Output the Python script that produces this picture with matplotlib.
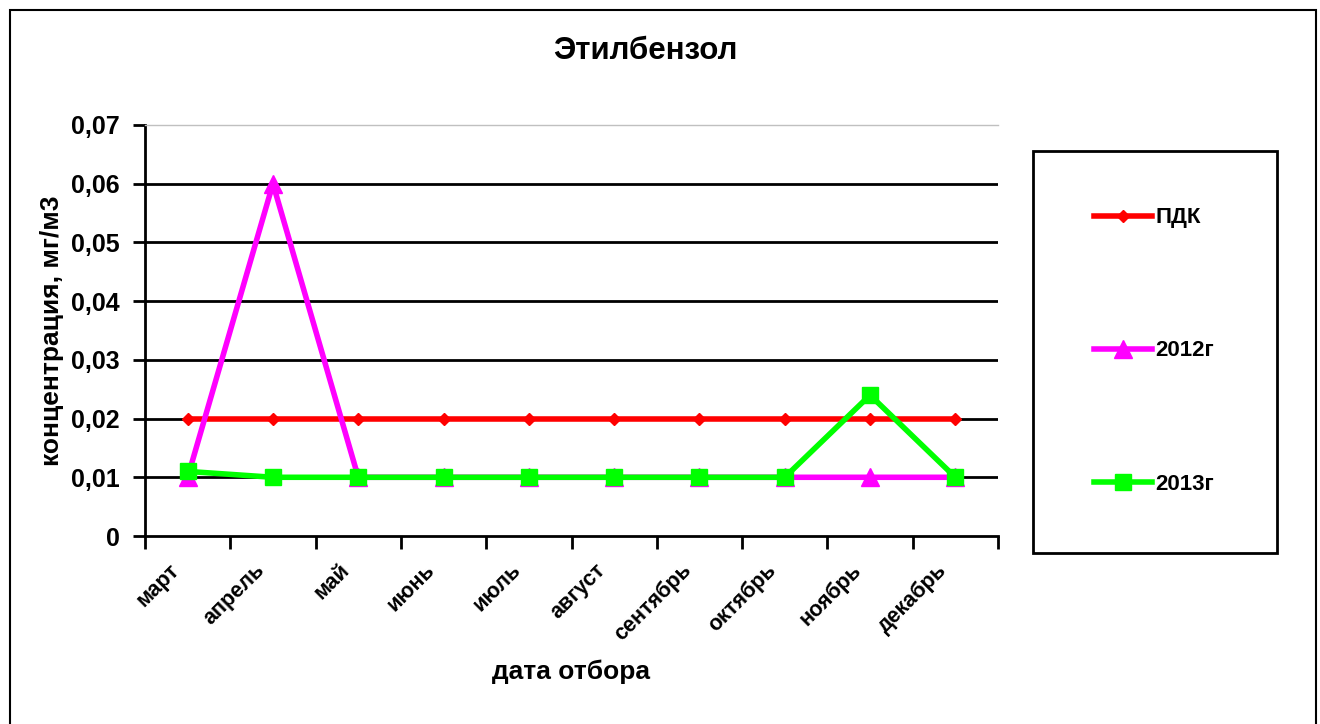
import matplotlib
matplotlib.use("Agg")
import matplotlib.pyplot as plt
from matplotlib.patches import Rectangle
from matplotlib.ticker import FixedLocator, FixedFormatter
from matplotlib.transforms import ScaledTranslation

plt.rcParams['font.family'] = ['Liberation Sans', 'DejaVu Sans']

# data
months = ["март", "апрель", "май", "июнь", "июль", "август",
          "сентябрь", "октябрь", "ноябрь", "декабрь"]
pdk = [0.02, 0.02, 0.02, 0.02, 0.02, 0.02, 0.02, 0.02, 0.02, 0.02]
y2012 = [0.01, 0.06, 0.01, 0.01, 0.01, 0.01, 0.01, 0.01, 0.01, 0.01]
y2013 = [0.011, 0.01, 0.01, 0.01, 0.01, 0.01, 0.01, 0.01, 0.024, 0.01]
yticks = [0, 0.01, 0.02, 0.03, 0.04, 0.05, 0.06, 0.07]
ytick_labels = ["0", "0,01", "0,02", "0,03", "0,04", "0,05", "0,06", "0,07"]

fig = plt.figure(figsize=(13.2, 7.24), dpi=100)
ax = fig.add_axes([145 / 1320, 188 / 724, 853 / 1320, 411 / 724])

x = list(range(len(months)))
ax.plot(x, pdk, color="#ff0000", lw=4, marker="D", ms=6, label="ПДК", zorder=3)
ax.plot(x, y2012, color="#ff00ff", lw=4, marker="^", ms=13, label="2012г", zorder=4)
ax.plot(x, y2013, color="#00ff00", lw=4, marker="s", ms=12, label="2013г", zorder=5)

ax.set_xlim(-0.5, len(months) - 0.5)
ax.set_ylim(0, 0.07)

# grid
for v in yticks[1:-1]:
    ax.axhline(v, color="black", lw=2, zorder=1)

ax.yaxis.set_major_locator(FixedLocator(yticks))
ax.yaxis.set_major_formatter(FixedFormatter(ytick_labels))
ax.tick_params(axis="y", direction="out", length=9, width=2, labelsize=18, pad=9)
for lab in ax.get_yticklabels():
    lab.set_fontweight("bold")

ax.set_xticks(x)
ax.set_xticklabels(months, rotation=45, ha="right", va="top",
                   rotation_mode="anchor", fontsize=15.5, fontweight="bold")
ax.tick_params(axis="x", which="major", length=0, pad=17)
shift = ScaledTranslation(-19 / 100, 0, fig.dpi_scale_trans)
for lab in ax.get_xticklabels():
    lab.set_transform(lab.get_transform() + shift)
ax.set_xticks([i - 0.5 for i in range(len(months) + 1)], minor=True)
ax.tick_params(axis="x", which="minor", direction="out", length=9, width=2)

ax.spines["right"].set_visible(False)
ax.spines["top"].set_color("#c0c0c0")
ax.spines["top"].set_linewidth(1)
ax.spines["left"].set_linewidth(2)
ax.spines["bottom"].set_linewidth(2)

ax.set_ylabel("концентрация, мг/м3", fontsize=19, fontweight="bold")
ax.yaxis.set_label_coords(-93 / 853, 0.5)
ax.set_xlabel("дата отбора", fontsize=19, fontweight="bold")
ax.xaxis.set_label_coords(0.5, -136 / 411)
ax.xaxis.label.set_va("center")
ax.yaxis.label.set_va("center")

fig.text(645 / 1320, 1 - 51 / 724, "Этилбензол", fontsize=22.5, fontweight="bold",
         ha="center", va="center")

# legend box
fig.patches.append(Rectangle((1033 / 1320, 1 - 553 / 724), 244 / 1320, 402 / 724,
                             transform=fig.transFigure, fill=False,
                             edgecolor="black", lw=2))
leg = fig.legend(loc="center", bbox_to_anchor=(1154 / 1320, 1 - 351 / 724),
                 frameon=False, fontsize=16, labelspacing=5.05,
                 handlelength=2.6, handletextpad=0.15, markerscale=1)
for t in leg.get_texts():
    t.set_fontweight("bold")

# outer chart border
fig.patches.append(Rectangle((10 / 1320, -0.01), 1306 / 1320, 714 / 724 + 0.01,
                             transform=fig.transFigure, fill=False,
                             edgecolor="black", lw=1.5))

fig.savefig("out.png", dpi=100, facecolor="white")
